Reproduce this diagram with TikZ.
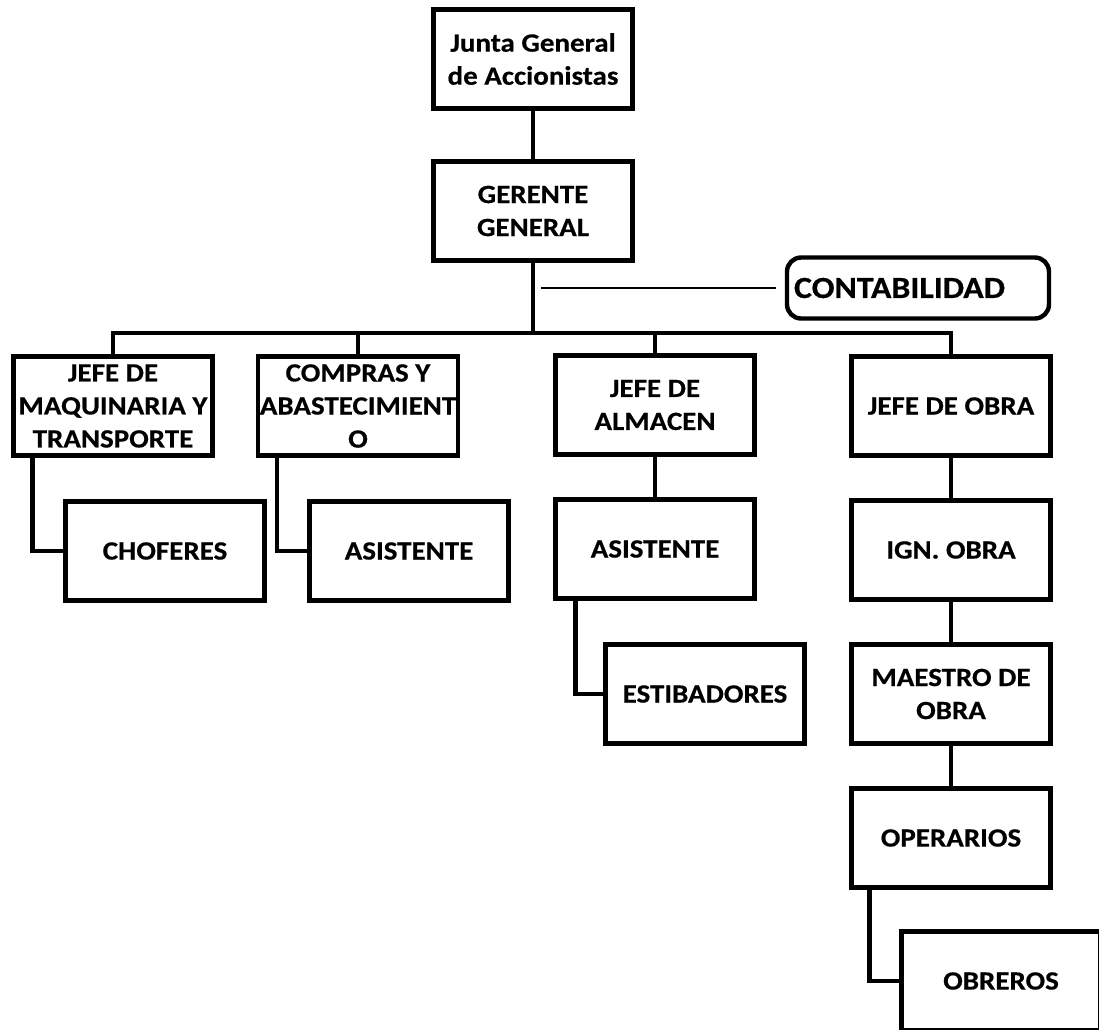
\documentclass[tikz,border=0pt]{standalone}
\usepackage{fontspec}
\setmainfont{Carlito}[FakeStretch=1.1, BoldFeatures={FakeBold=0.5}]
\usetikzlibrary{positioning}
\tikzset{
  unitbox/.style={draw=black, line width=2.5pt, minimum width=3.98cm, minimum height=1.98cm,
    inner sep=1pt, align=center, font=\bfseries\fontsize{15}{18.8}\selectfont},
  tie/.style={draw=black, line width=2.5pt},
  thinlink/.style={draw=black, line width=1.1pt}
}
\begin{document}
\begin{tikzpicture}[x=0.02cm, y=-0.02cm]
\useasboundingbox (0,0) rectangle (1099,1029);
\clip (0,0) rectangle (1099,1029);
\node [unitbox] (junta)    at (533,59)  {Junta General\\de Accionistas};
\node [unitbox] (gerente)  at (533,211) {GERENTE\\GENERAL};
\node [unitbox, rounded corners=8pt, minimum width=5.24cm, minimum height=1.22cm,
       text width=4.96cm, inner sep=0.12cm, align=left,
       font=\bfseries\fontsize{17.5}{20}\selectfont] (contab) at (918,288) {CONTABILIDAD};
\node [unitbox] (maq)      at (113,406) {JEFE DE\\MAQUINARIA Y\\TRANSPORTE};
\node [unitbox] (compras)  at (358,406) {COMPRAS Y\\ABASTECIMIENT\\O};
\node [unitbox] (almacen)  at (655,405) {JEFE DE\\ALMACEN};
\node [unitbox] (obra)     at (951,406) {JEFE DE OBRA};
\node [unitbox] (choferes) at (165,551) {CHOFERES};
\node [unitbox] (asis)     at (409,551) {ASISTENTE};
\node [unitbox] (asisalm)  at (655,549) {ASISTENTE};
\node [unitbox] (estib)    at (705,694) {ESTIBADORES};
\node [unitbox] (ign)      at (951,550) {IGN. OBRA};
\node [unitbox] (maestro)  at (951,694) {MAESTRO DE\\OBRA};
\node [unitbox] (operarios) at (951,838) {OPERARIOS};
\node [unitbox] (obreros)  at (1001,981) {OBREROS};
\coordinate (bus) at (533,333);
\coordinate (tap) at (541,288);
\draw [tie] (junta.south) -- (gerente.north);
\draw [tie] (gerente.south) -- (bus);
\draw [tie] (maq.north) |- (bus) -| (obra.north);
\draw [tie] (compras.north) -- (compras.north |- bus);
\draw [tie] (almacen.north) -- (almacen.north |- bus);
\draw [thinlink] (tap) -- ([xshift=-0.18cm]contab.west);
\draw [tie] ([xshift=0.42cm]maq.south west) |- (choferes.west);
\draw [tie] ([xshift=0.42cm]compras.south west) |- (asis.west);
\draw [tie] (almacen.south) -- (asisalm.north);
\draw [tie] ([xshift=0.44cm]asisalm.south west) |- (estib.west);
\draw [tie] (obra.south) -- (ign.north);
\draw [tie] (ign.south) -- (maestro.north);
\draw [tie] (maestro.south) -- (operarios.north);
\draw [tie] ([xshift=0.4cm]operarios.south west) |- (obreros.west);
\end{tikzpicture}
\end{document}
